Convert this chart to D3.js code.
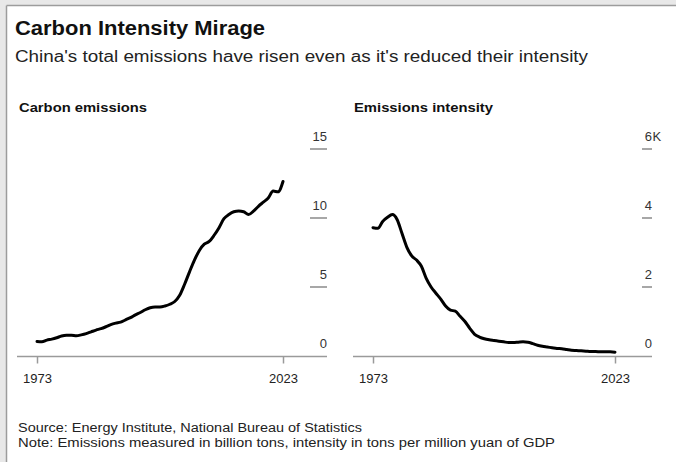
<!DOCTYPE html>
<html>
<head>
<meta charset="utf-8">
<script src="https://cdn.jsdelivr.net/npm/d3@7"></script>
<style>
  body { margin: 0; background: #fff; }
  text { font-family: "Liberation Sans", Arial, sans-serif; }
</style>
</head>
<body>
<svg id="chart" width="676" height="462"></svg>
<script>
// China: annual CO2 emissions (billion tons) and carbon intensity (tons per million yuan of GDP)
const years = d3.range(1973, 2024);
const emissions = [
  1.05, 1.03, 1.15, 1.22, 1.32, 1.45, 1.50, 1.50, 1.47, 1.53,
  1.62, 1.75, 1.88, 1.98, 2.12, 2.28, 2.38, 2.45, 2.62, 2.78,
  2.98, 3.15, 3.35, 3.50, 3.55, 3.55, 3.62, 3.75, 3.95, 4.40,
  5.20, 6.10, 6.95, 7.65, 8.10, 8.30, 8.75, 9.30, 9.95, 10.25,
  10.45, 10.50, 10.45, 10.25, 10.50, 10.85, 11.15, 11.45, 11.95, 11.90,
  12.65
];
const intensity = [
  3720, 3700, 3900, 4020, 4100, 3950, 3550, 3150, 2900, 2780,
  2600, 2250, 2000, 1820, 1650, 1450, 1330, 1300, 1150, 1000,
  800, 630, 550, 500, 470, 450, 430, 410, 390, 390,
  400, 410, 400, 360, 310, 280, 260, 240, 220, 210,
  190, 170, 160, 150, 140, 130, 130, 120, 120, 120,
  110
];
const emissionTicks = [0, 5, 10, 15];
const intensityTicks = [0, 2000, 4000, 6000];
const yearTicks = [1973, 2023];

const svg = d3.select("#chart");
const W = 676, H = 462;

svg.append("rect").attr("width", W).attr("height", H).attr("fill", "#fff");

// page frame along the top and left edges
svg.append("rect").attr("x", 0).attr("y", 0).attr("width", W).attr("height", 5).attr("fill", "#e8e8e8");
svg.append("rect").attr("x", 0).attr("y", 0).attr("width", 6).attr("height", H).attr("fill", "#e8e8e8");
svg.append("line").attr("x1", 6.5).attr("x2", W).attr("y1", 5.5).attr("y2", 5.5).attr("stroke", "#9c9c9c").attr("stroke-width", 1.5);
svg.append("line").attr("x1", 6.5).attr("x2", 6.5).attr("y1", 5.5).attr("y2", H).attr("stroke", "#9c9c9c").attr("stroke-width", 1.5);

function fitText(sel, width) {
  sel.attr("textLength", width).attr("lengthAdjust", "spacingAndGlyphs");
  return sel;
}

fitText(svg.append("text").attr("x", 15).attr("y", 35)
  .attr("font-size", 20).attr("font-weight", "bold").attr("fill", "#111")
  .text("Carbon Intensity Mirage"), 250);

fitText(svg.append("text").attr("x", 15).attr("y", 62)
  .attr("font-size", 16).attr("fill", "#222")
  .text("China's total emissions have risen even as it's reduced their intensity"), 573);

fitText(svg.append("text").attr("x", 18).attr("y", 432)
  .attr("font-size", 12.5).attr("fill", "#222")
  .text("Source: Energy Institute, National Bureau of Statistics"), 344);

fitText(svg.append("text").attr("x", 18).attr("y", 447)
  .attr("font-size", 12.5).attr("fill", "#222")
  .text("Note: Emissions measured in billion tons, intensity in tons per million yuan of GDP"), 537);

const yTop = 149, yBase = 356;

function panel(cfg) {
  const g = svg.append("g");
  const x = d3.scaleLinear().domain([1973, 2023]).range([cfg.x0, cfg.x1]);
  const y = d3.scaleLinear().domain([0, cfg.max]).range([yBase, yTop]);

  fitText(g.append("text").attr("x", cfg.titleX).attr("y", 112)
    .attr("font-size", 13.5).attr("font-weight", "bold").attr("fill", "#111")
    .text(cfg.title), cfg.titleW);

  // value ticks: short dash with label above, right aligned
  cfg.ticks.forEach((t, i) => {
    const yy = y(t);
    if (t !== 0) {
      g.append("line").attr("x1", cfg.right - cfg.dash).attr("x2", cfg.right)
        .attr("y1", yy).attr("y2", yy).attr("stroke", "#8a8a8a").attr("stroke-width", 1.5);
    }
    g.append("text").attr("x", cfg.right).attr("y", yy - 8)
      .attr("text-anchor", "end").attr("font-size", 13).attr("fill", "#333")
      .text(cfg.fmt(t));
    if (i === cfg.ticks.length - 1 && cfg.suffix) {
      g.append("text").attr("x", cfg.right + 0.5).attr("y", yy - 8)
        .attr("font-size", 13).attr("fill", "#333").text(cfg.suffix);
    }
  });

  // baseline axis
  g.append("line").attr("x1", cfg.axisL).attr("x2", cfg.right)
    .attr("y1", yBase + 0.5).attr("y2", yBase + 0.5)
    .attr("stroke", "#9a9a9a").attr("stroke-width", 1.5);

  const xAxis = d3.axisBottom(x).tickValues(yearTicks).tickFormat(d3.format("d"))
    .tickSize(7).tickPadding(10);
  const ax = g.append("g").attr("transform", `translate(0,${yBase + 0.5})`).call(xAxis);
  ax.select(".domain").remove();
  ax.selectAll(".tick line").attr("stroke", "#9a9a9a").attr("stroke-width", 1.5);
  ax.selectAll(".tick text").attr("font-size", 13).attr("fill", "#222")
    .attr("font-family", "'Liberation Sans', Arial, sans-serif");

  const line = d3.line()
    .x((d, i) => x(years[i]))
    .y(d => y(d))
    .curve(d3.curveMonotoneX);
  g.append("path").datum(cfg.values).attr("d", line)
    .attr("fill", "none").attr("stroke", "#000").attr("stroke-width", 3)
    .attr("stroke-linejoin", "round").attr("stroke-linecap", "round");
}

panel({
  title: "Carbon emissions", titleX: 19, titleW: 128,
  x0: 37, x1: 283, axisL: 17, right: 327, dash: 17,
  max: 15, ticks: emissionTicks, fmt: d3.format("d"), suffix: null,
  values: emissions
});

panel({
  title: "Emissions intensity", titleX: 354, titleW: 139,
  x0: 373, x1: 615, axisL: 353, right: 652, dash: 10,
  max: 6000, ticks: intensityTicks, fmt: d => d3.format("d")(d / 1000), suffix: "K",
  values: intensity
});
</script>
</body>
</html>
